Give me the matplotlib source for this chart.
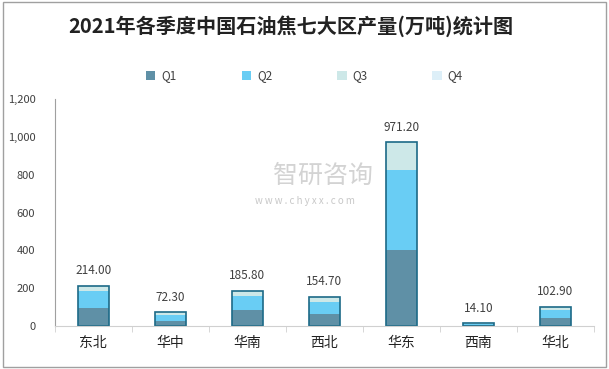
import numpy as np
import matplotlib.pyplot as plt
from matplotlib.patches import Rectangle

plt.rcParams['font.family'] = ['Noto Sans CJK SC', 'DejaVu Sans']

# 数据
regions = ["东北", "华中", "华南", "西北", "华东", "西南", "华北"]
q1 = [95, 28, 85, 63, 402, 4, 42]
q2 = [90, 30, 74, 64, 423, 7, 43]
q3 = [29, 14.3, 26.8, 27.7, 146.2, 3.1, 17.9]
q4 = [0, 0, 0, 0, 0, 0, 0]
totals = [214.00, 72.30, 185.80, 154.70, 971.20, 14.10, 102.90]

colors = ["#5F90A6", "#69CDF4", "#CDE8E8", "#DDEFF8"]
names = ["Q1", "Q2", "Q3", "Q4"]

fig = plt.figure(figsize=(6.09, 3.69), dpi=100)
ax = fig.add_axes([0.090, 0.1165, 0.885, 0.615])

x = np.arange(len(regions))
w = 0.40
bottom = np.zeros(len(regions))
for vals, c, n in zip([q1, q2, q3, q4], colors, names):
    ax.bar(x, vals, w, bottom=bottom, color=c, label=n, linewidth=0)
    bottom += np.array(vals)
# 外框
ax.bar(x, totals, w, fill=False, edgecolor="#1C6A87", linewidth=1.2)

for xi, t in zip(x, totals):
    ax.text(xi, t + 45, f"{t:.2f}", ha="center", va="bottom", fontsize=8.5, color="#404040")

ax.set_xlim(-0.5, len(regions) - 0.5)
ax.set_ylim(0, 1200)
ax.set_yticks(range(0, 1201, 200))
ax.set_yticklabels([f"{v:,}" for v in range(0, 1201, 200)], fontsize=8, color="#404040")
ax.set_xticks(x)
ax.set_xticklabels(regions, fontsize=10, color="#222222")
ax.set_xticks(np.arange(-0.5, len(regions)), minor=True)
ax.tick_params(axis="x", which="major", length=0, pad=7)
ax.tick_params(axis="x", which="minor", length=4, color="#D0D0D0")
ax.tick_params(axis="y", length=0, pad=14)

for s in ["top", "right"]:
    ax.spines[s].set_visible(False)
ax.spines["left"].set_color("#A0A0A0")
ax.spines["bottom"].set_color("#D0D0D0")

# 水印
fig.text(0.53, 0.522, "智研咨询", fontsize=18, color="#C8C8C8", ha="center", va="center", alpha=0.8)
fig.text(0.50, 0.455, "w w w . c h y x x . c o m", fontsize=7, color="#C8C8C8", ha="center", va="center")

fig.text(0.478, 0.93, "2021年各季度中国石油焦七大区产量(万吨)统计图", ha="center", va="center",
         fontsize=14.5, fontweight="bold", color="#222222")

leg = fig.legend(loc="center", bbox_to_anchor=(0.50, 0.795), ncol=4, frameon=False,
                 fontsize=8.5, handlelength=0.8, handleheight=0.8, columnspacing=5.5, handletextpad=0.5)
for t in leg.get_texts():
    t.set_color("#404040")

fig.patches.append(Rectangle((0.005, 0.005), 0.99, 0.99, transform=fig.transFigure,
                             fill=False, edgecolor="#A0A0A0", linewidth=1))

fig.savefig("out.png", dpi=100)
